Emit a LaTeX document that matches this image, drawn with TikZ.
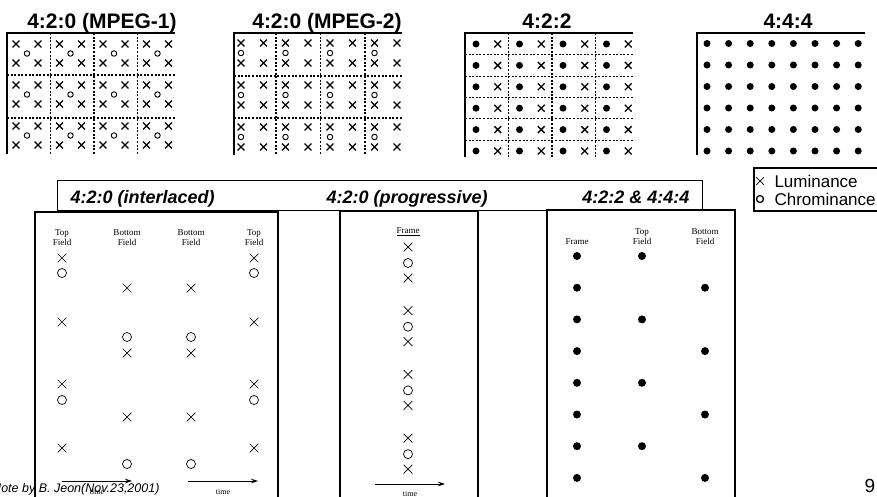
\documentclass[tikz,border=0pt]{standalone}
\usepackage{fontspec}
\setmainfont{Liberation Sans}
\newfontfamily\fieldfont{Liberation Serif}
\usetikzlibrary{shapes.misc,arrows.meta}

\begin{document}
\begin{tikzpicture}[x=1pt, y=-1pt,
        gridtitle/.style={font=\fontsize{21}{24}\selectfont\bfseries, anchor=base},
        tabtext/.style={font=\fontsize{18}{21}\selectfont\bfseries\itshape, anchor=base west},
        legtext/.style={font=\fontsize{17}{20}\selectfont, anchor=base west},
        fieldlbl/.style={font=\fieldfont\fontsize{9}{10}\selectfont, align=center, inner sep=0pt},
        timelbl/.style={font=\fieldfont\fontsize{8}{9}\selectfont, inner sep=0pt},
        gridedge/.style={line width=1.7pt},
        celldiv/.style={line width=1.1pt, dash pattern=on 2pt off 1.6pt},
        fieldpanel/.style={line width=1.4pt},
        lumasm/.style={cross out, draw, line width=1.3pt, minimum size=5.5pt, inner sep=0pt},
        chromasm/.style={circle, draw, line width=0.9pt, minimum size=5.5pt, inner sep=0pt},
        dotsm/.style={circle, fill, minimum size=7pt, inner sep=0pt},
        luma/.style={cross out, draw, line width=0.7pt, minimum size=8pt, inner sep=0pt},
        chroma/.style={circle, draw, line width=0.7pt, minimum size=9pt, inner sep=0pt},
        sampdot/.style={circle, fill, minimum size=8pt, inner sep=0pt},
        timearrow/.style={-{Stealth[length=7pt,width=4.5pt]}, line width=0.7pt}
    ]
        \useasboundingbox (0,0) rectangle (877,497);

        % 4:2:0 (MPEG-1)
        \node[gridtitle] (t1) at (102,29) {4:2:0 (MPEG-1)};
        \foreach \k in {1,2,3} \draw[celldiv] (7+43.5*\k,33) -- (7+43.5*\k,154);
        \foreach \y in {75,118} \draw[celldiv] (7,\y) -- (175,\y);
        \draw[gridedge] (175,33) -- (7,33) -- (7,154);
        \foreach \k in {0,...,3}
            \foreach \j in {0,1,2} {
                \foreach \r in {0,1}
                    \foreach \s in {0,1}
                        \node[lumasm] (a-\k-\j-\r\s) at (16+43.5*\k+22*\r, 44+41*\j+19*\s) {};
                \node[chromasm] (a-\k-\j-c) at (27+43.5*\k, 53.5+41*\j) {};
            }

        % 4:2:0 (MPEG-2)
        \node[gridtitle] (t2) at (327,29) {4:2:0 (MPEG-2)};
        \foreach \k in {0,1,2} \draw[celldiv] (276+44.5*\k,33) -- (276+44.5*\k,155);
        \foreach \y in {76,118} \draw[celldiv] (234,\y) -- (402,\y);
        \draw[gridedge] (402,33) -- (234,33) -- (234,155);
        \foreach \k in {0,...,3}
            \foreach \j in {0,1,2} {
                \foreach \r in {0,1}
                    \foreach \s in {0,1}
                        \node[lumasm] (b-\k-\j-\r\s) at (241+44.5*\k+22.5*\r, 43+42*\j+20*\s) {};
                \node[chromasm] (b-\k-\j-c) at (241+44.5*\k, 53+42*\j) {};
            }

        % 4:2:2
        \node[gridtitle] (t3) at (547,29) {4:2:2};
        \foreach \k in {0,1,2} \draw[celldiv] (508.5+43.5*\k,33) -- (508.5+43.5*\k,157);
        \foreach \j in {0,...,4} \draw[celldiv] (465,54.7+21.4*\j) -- (633,54.7+21.4*\j);
        \draw[gridedge] (633,33) -- (465,33) -- (465,157);
        \foreach \k in {0,...,3}
            \foreach \j in {0,...,5} {
                \node[dotsm] (c-\k-\j-d) at (476+43.5*\k, 44+21.4*\j) {};
                \node[lumasm] (c-\k-\j-x) at (497.75+43.5*\k, 44+21.4*\j) {};
            }

        % 4:4:4
        \node[gridtitle] (t4) at (788,29) {4:4:4};
        \draw[gridedge] (865,33) -- (697,33) -- (697,155);
        \foreach \i in {0,...,7}
            \foreach \j in {0,...,5}
                \node[dotsm] (d-\i-\j) at (707+21.6*\i, 43.5+21.5*\j) {};

        % legend
        \draw[line width=1.2pt] (754,168) rectangle (880,211);
        \node[luma, minimum size=7pt] (legx) at (760,181) {};
        \node[chroma, line width=1.3pt, minimum size=7pt] (lego) at (760,199) {};
        \node[legtext] (legl) at (771,187) {Luminance};
        \node[legtext] (legc) at (771,205) {Chrominance};

        % field panels
        \draw[line width=1pt] (57,180) rectangle (702,210);
        \node[tabtext] (h1) at (67,203) {4:2:0 (interlaced)};
        \node[tabtext] (h2) at (323,203) {4:2:0 (progressive)};
        \node[tabtext, anchor=base east] (h3) at (693,203) {4:2:2 \& 4:4:4};

        \node[anchor=base east, font=\fontsize{12.5}{14}\selectfont\itshape] (note) at (163,492) {Note by B. Jeon(Nov.23,2001)};

        \draw[fieldpanel] (35,499) -- (35,212) -- (278,212) -- (278,499);
        \draw[fieldpanel] (340,499) -- (340,211) -- (478,211) -- (478,499);
        \draw[fieldpanel] (547,499) -- (547,210) -- (735,210) -- (735,499);

        % interlaced
        \node[fieldlbl] (f1) at (62,238) {Top\\Field};
        \node[fieldlbl] (f2) at (127,238) {Bottom\\Field};
        \node[fieldlbl] (f3) at (191,238) {Bottom\\Field};
        \node[fieldlbl] (f4) at (254,238) {Top\\Field};
        \foreach \c/\x in {1/62, 4/254} {
            \foreach \y [count=\n] in {258,322,384,448} \node[luma] (i\c-x\n) at (\x,\y) {};
            \foreach \y [count=\n] in {273,400} \node[chroma] (i\c-o\n) at (\x,\y) {};
        }
        \foreach \c/\x in {2/127, 3/191} {
            \foreach \y [count=\n] in {288,353,417} \node[luma] (i\c-x\n) at (\x,\y) {};
            \foreach \y [count=\n] in {337,464} \node[chroma] (i\c-o\n) at (\x,\y) {};
        }
        \coordinate (ta1) at (62,481);  \coordinate (tb1) at (132,481);
        \coordinate (ta2) at (188,481); \coordinate (tb2) at (258,481);
        \draw[timearrow] (ta1) -- (tb1);
        \draw[timearrow] (ta2) -- (tb2);
        \node[timelbl] (tl1) at (97,492) {time};
        \node[timelbl] (tl2) at (223,492) {time};

        % progressive
        \node[fieldlbl] (pf) at (408,232) {\underline{Frame}};
        \foreach \g in {0,...,3} {
            \node[luma] (p\g-a) at (408,247+63.7*\g) {};
            \node[chroma] (p\g-o) at (408,263+63.7*\g) {};
            \node[luma] (p\g-b) at (408,278+63.7*\g) {};
        }
        \coordinate (ta3) at (375,484); \coordinate (tb3) at (445,484);
        \draw[timearrow] (ta3) -- (tb3);
        \node[timelbl] (tl3) at (410,494) {time};

        % 4:2:2 & 4:4:4
        \node[fieldlbl] (r1) at (577,242) {Frame};
        \node[fieldlbl] (r2) at (642,237) {Top\\Field};
        \node[fieldlbl] (r3) at (705,237) {Bottom\\Field};
        \foreach \n in {0,...,7} \node[sampdot] (rf\n) at (577,256+31.7*\n) {};
        \foreach \n in {0,2,4,6} \node[sampdot] (rt\n) at (642,256+31.7*\n) {};
        \foreach \n in {1,3,5,7} \node[sampdot] (rb\n) at (705,256+31.7*\n) {};

        \node[anchor=base, font=\fontsize{19}{22}\selectfont] (pg) at (870,492) {9};
    \end{tikzpicture}
\end{document}
